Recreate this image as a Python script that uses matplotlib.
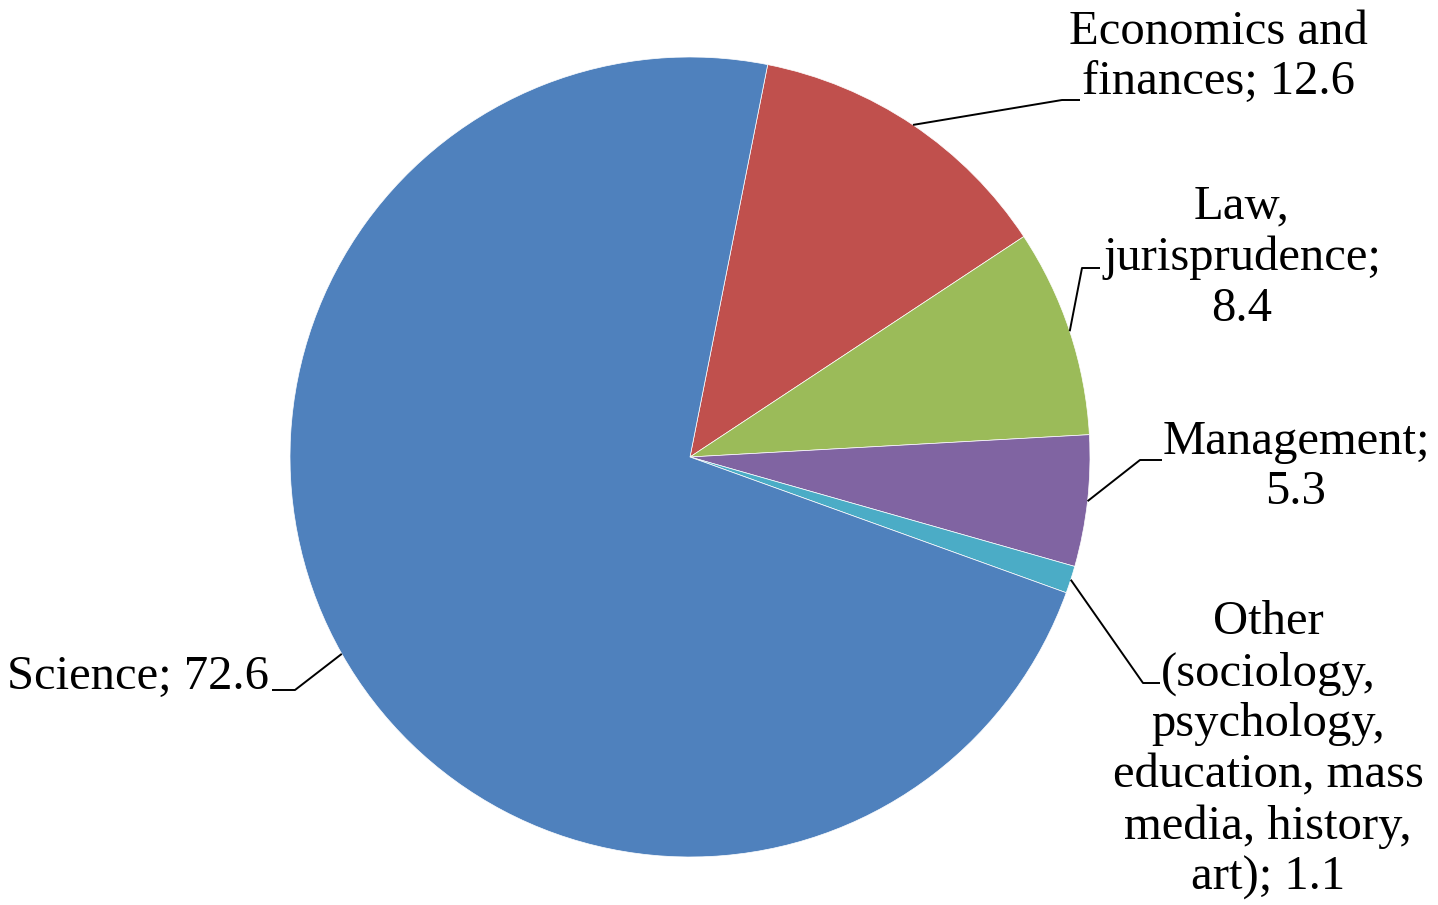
import numpy as np
import matplotlib
matplotlib.use("Agg")
import matplotlib.pyplot as plt

labels = ["Economics and\nfinances; 12.6",
          "Law,\njurisprudence;\n8.4",
          "Management;\n5.3",
          "Other\n(sociology,\npsychology,\neducation, mass\nmedia, history,\nart); 1.1",
          "Science; 72.6"]
values = [12.6, 8.4, 5.3, 1.1, 72.6]
colors = ["#C0504D", "#9BBB59", "#8064A2", "#4BACC6", "#4F81BD"]

W, H = 1438, 905
fig = plt.figure(figsize=(W / 100, H / 100), dpi=100)
ax = fig.add_axes([0, 0, 1, 1])
ax.set_xlim(0, W)
ax.set_ylim(0, H)
ax.set_aspect("equal")
ax.axis("off")

cx, cy, r = 690, H - 457, 400
wedges, _ = ax.pie(values, colors=colors, startangle=78.8, counterclock=False,
                   center=(cx, cy), radius=r,
                   wedgeprops=dict(edgecolor="white", linewidth=0.5))
ax.set_xlim(0, W)
ax.set_ylim(0, H)

# label centre, elbow point, end of horizontal tick
layout = [
    ((1218, H - 57), (1062, H - 100), (1080, H - 100)),
    ((1242, H - 258), (1082, H - 268), (1100, H - 268)),
    ((1296, H - 467), (1140, H - 460), (1162, H - 460)),
    ((1268, H - 750), (1143, H - 683), (1160, H - 683)),
    ((138, H - 677), (295, H - 690), (272, H - 690)),
]

for w, lab, (txt, elbow, tick) in zip(wedges, labels, layout):
    mid = np.deg2rad((w.theta1 + w.theta2) / 2)
    ax0 = cx + r * np.cos(mid)
    ay0 = cy + r * np.sin(mid)
    ax.plot([ax0, elbow[0], tick[0]], [ay0, elbow[1], tick[1]],
            color="black", lw=1.4, solid_capstyle="butt")
    ax.text(txt[0], txt[1], lab, ha="center", va="center",
            family="Liberation Serif", fontsize=35, linespacing=1.2)

fig.savefig("out.png", dpi=100)
